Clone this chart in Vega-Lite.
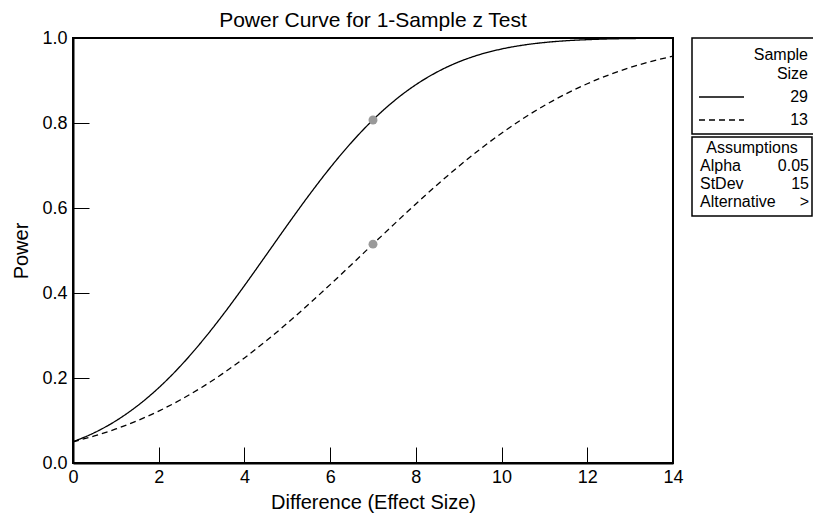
{
  "$schema": "https://vega.github.io/schema/vega-lite/v6.json",
  "padding": {"left": 10, "top": 9, "right": 0, "bottom": 5},
  "background": "white",
  "bounds": "flush",
  "spacing": 19,
  "config": {
    "font": "Liberation Sans",
    "view": {"stroke": "black", "strokeWidth": 2},
    "axis": {
      "domainColor": "black", "domainWidth": 2, "tickColor": "black", "tickWidth": 1,
      "labelColor": "black", "titleColor": "black", "labelFont": "Liberation Sans",
      "titleFont": "Liberation Sans", "titleFontWeight": "normal", "grid": false,
      "labelFontSize": 18, "titleFontSize": 20, "tickSize": -16, "labelFlush": false
    },
    "title": {"font": "Liberation Sans", "fontSize": 21, "fontWeight": "normal", "color": "black"}
  },
  "resolve": {"scale": {"strokeDash": "independent"}, "legend": {"strokeDash": "independent"}},
  "hconcat": [
    {
      "width": 600,
      "height": 425,
      "title": {"text": "Power Curve for 1-Sample z Test", "anchor": "middle", "frame": "group", "baseline": "bottom", "offset": -23},
      "layer": [
        {
          "data": {"values": [
            {"difference": 0, "power": 0.05, "n": 29},
            {"difference": 0.5, "power": 0.0714, "n": 29},
            {"difference": 1, "power": 0.0992, "n": 29},
            {"difference": 1.5, "power": 0.1343, "n": 29},
            {"difference": 2, "power": 0.1770, "n": 29},
            {"difference": 2.5, "power": 0.2274, "n": 29},
            {"difference": 3, "power": 0.2851, "n": 29},
            {"difference": 3.5, "power": 0.3489, "n": 29},
            {"difference": 4, "power": 0.4173, "n": 29},
            {"difference": 4.5, "power": 0.4883, "n": 29},
            {"difference": 5, "power": 0.5597, "n": 29},
            {"difference": 5.5, "power": 0.6292, "n": 29},
            {"difference": 6, "power": 0.6947, "n": 29},
            {"difference": 6.5, "power": 0.7545, "n": 29},
            {"difference": 7, "power": 0.8074, "n": 29},
            {"difference": 7.5, "power": 0.8526, "n": 29},
            {"difference": 8, "power": 0.8901, "n": 29},
            {"difference": 8.5, "power": 0.9202, "n": 29},
            {"difference": 9, "power": 0.9437, "n": 29},
            {"difference": 9.5, "power": 0.9613, "n": 29},
            {"difference": 10, "power": 0.9741, "n": 29},
            {"difference": 10.5, "power": 0.9832, "n": 29},
            {"difference": 11, "power": 0.9894, "n": 29},
            {"difference": 11.5, "power": 0.9935, "n": 29},
            {"difference": 12, "power": 0.9961, "n": 29},
            {"difference": 12.5, "power": 0.9978, "n": 29},
            {"difference": 13, "power": 0.9987, "n": 29},
            {"difference": 13.5, "power": 0.9993, "n": 29},
            {"difference": 14, "power": 0.9996, "n": 29},
            {"difference": 0, "power": 0.05, "n": 13},
            {"difference": 0.5, "power": 0.0637, "n": 13},
            {"difference": 1, "power": 0.0801, "n": 13},
            {"difference": 1.5, "power": 0.0995, "n": 13},
            {"difference": 2, "power": 0.1222, "n": 13},
            {"difference": 2.5, "power": 0.1482, "n": 13},
            {"difference": 3, "power": 0.1778, "n": 13},
            {"difference": 3.5, "power": 0.2108, "n": 13},
            {"difference": 4, "power": 0.2472, "n": 13},
            {"difference": 4.5, "power": 0.2867, "n": 13},
            {"difference": 5, "power": 0.3289, "n": 13},
            {"difference": 5.5, "power": 0.3734, "n": 13},
            {"difference": 6, "power": 0.4197, "n": 13},
            {"difference": 6.5, "power": 0.4671, "n": 13},
            {"difference": 7, "power": 0.5150, "n": 13},
            {"difference": 7.5, "power": 0.5627, "n": 13},
            {"difference": 8, "power": 0.6095, "n": 13},
            {"difference": 8.5, "power": 0.6548, "n": 13},
            {"difference": 9, "power": 0.6979, "n": 13},
            {"difference": 9.5, "power": 0.7385, "n": 13},
            {"difference": 10, "power": 0.7760, "n": 13},
            {"difference": 10.5, "power": 0.8103, "n": 13},
            {"difference": 11, "power": 0.8412, "n": 13},
            {"difference": 11.5, "power": 0.8685, "n": 13},
            {"difference": 12, "power": 0.8924, "n": 13},
            {"difference": 12.5, "power": 0.9130, "n": 13},
            {"difference": 13, "power": 0.9306, "n": 13},
            {"difference": 13.5, "power": 0.9452, "n": 13},
            {"difference": 14, "power": 0.9573, "n": 13}
          ]},
          "mark": {"type": "line", "color": "black", "strokeWidth": 1.3, "interpolate": "monotone", "clip": true},
          "encoding": {
            "x": {
              "field": "difference", "type": "quantitative",
              "scale": {"domain": [0, 14], "nice": false, "zero": false},
              "axis": {"values": [0, 2, 4, 6, 8, 10, 12, 14], "labelPadding": 21, "titlePadding": 6, "title": "Difference (Effect Size)"}
            },
            "y": {
              "field": "power", "type": "quantitative",
              "scale": {"domain": [0, 1], "nice": false},
              "axis": {"values": [0, 0.2, 0.4, 0.6, 0.8, 1.0], "format": ".1f", "labelPadding": 22, "titlePadding": 10, "title": "Power"}
            },
            "strokeDash": {
              "field": "n", "type": "nominal",
              "scale": {"domain": [29, 13], "range": [[1, 0], [6, 4]]},
              "legend": {
                "orient": "none", "legendX": 619, "legendY": 0,
                "title": ["Sample", "Size"], "titleAlign": "right", "titleAnchor": "end",
                "titleFontSize": 16, "titleFontWeight": "normal", "titleLineHeight": 19, "titlePadding": 12, "titleColor": "black",
                "labelAlign": "right", "labelOffset": 63, "labelFontSize": 16, "labelColor": "black",
                "symbolType": "stroke", "symbolSize": 2025, "symbolStrokeColor": "black", "symbolStrokeWidth": 1.3,
                "clipHeight": 12, "rowPadding": 7,
                "padding": 6, "strokeColor": "black", "fillColor": "white", "cornerRadius": 0,
                "encode": {
                  "legend": {"update": {"strokeWidth": {"value": 1.5}}},
                  "title": {"update": {"dy": {"value": 3}}}
                }
              }
            }
          }
        },
        {
          "data": {"values": [
            {"difference": 7, "power": 0.807, "n": 29},
            {"difference": 7, "power": 0.515, "n": 13}
          ]},
          "mark": {"type": "circle", "color": "#999999", "size": 80, "opacity": 1},
          "encoding": {
            "x": {"field": "difference", "type": "quantitative"},
            "y": {"field": "power", "type": "quantitative"}
          }
        }
      ]
    },
    {
      "bounds": "flush",
      "spacing": 7,
      "vconcat": [
        {
          "width": 120,
          "height": 92,
          "view": {"stroke": null},
          "data": {"values": []},
          "mark": "point"
        },
        {
          "width": 120,
          "height": 79,
          "view": {"stroke": "black", "strokeWidth": 1.5},
          "layer": [
            {
              "data": {"values": [{"heading": "Assumptions"}]},
              "mark": {"type": "text", "fontSize": 16, "color": "black", "baseline": "middle"},
              "encoding": {
                "y": {"field": "heading", "type": "nominal", "axis": null,
                  "scale": {"type": "point", "domain": ["Assumptions", "Alpha", "StDev", "Alternative"], "padding": 0.694, "align": 0.44}},
                "text": {"field": "heading"}
              }
            },
            {
              "data": {"values": [
                {"item": "Alpha", "setting": "0.05"},
                {"item": "StDev", "setting": "15"},
                {"item": "Alternative", "setting": ">"}
              ]},
              "layer": [
                {
                  "mark": {"type": "text", "fontSize": 16, "color": "black", "align": "left", "baseline": "middle", "dx": 8},
                  "encoding": {
                    "x": {"datum": "item", "type": "nominal", "axis": null, "scale": {"type": "point", "domain": ["item", "setting"], "padding": 0}},
                    "y": {"field": "item", "type": "nominal"},
                    "text": {"field": "item"}
                  }
                },
                {
                  "mark": {"type": "text", "fontSize": 16, "color": "black", "align": "right", "baseline": "middle", "dx": -3},
                  "encoding": {
                    "x": {"datum": "setting", "type": "nominal"},
                    "y": {"field": "item", "type": "nominal"},
                    "text": {"field": "setting"}
                  }
                }
              ]
            }
          ]
        }
      ]
    }
  ]
}
